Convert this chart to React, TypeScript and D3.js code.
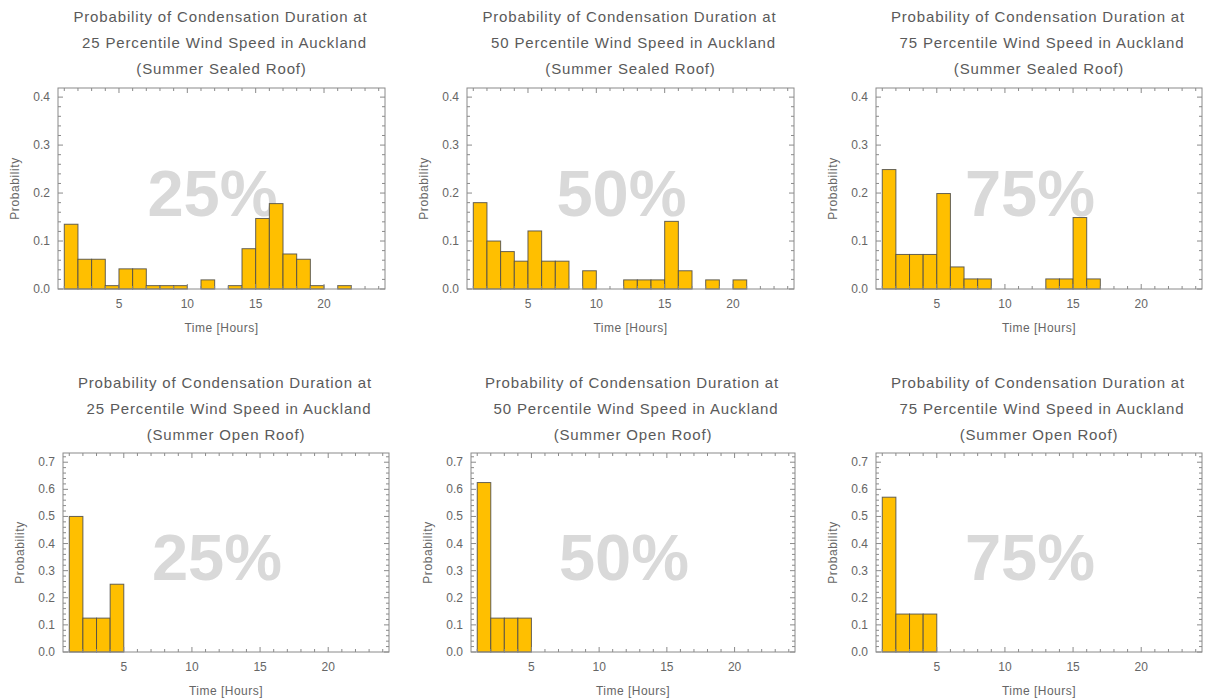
import React from "react";
import * as d3 from "d3";

// Histogram bin probabilities; bin i spans [i+1, i+2] hours.
const sealed25 = [0.135, 0.062, 0.062, 0.007, 0.042, 0.042, 0.007, 0.007, 0.007, 0, 0.019, 0, 0.007, 0.084, 0.147, 0.178, 0.073, 0.062, 0.007, 0, 0.007];
const sealed50 = [0.18, 0.1, 0.078, 0.058, 0.121, 0.058, 0.058, 0, 0.038, 0, 0, 0.019, 0.019, 0.019, 0.141, 0.038, 0, 0.019, 0, 0.019];
const sealed75 = [0.249, 0.072, 0.072, 0.072, 0.199, 0.046, 0.021, 0.021, 0, 0, 0, 0, 0.021, 0.021, 0.149, 0.021];
const open25 = [0.5, 0.125, 0.125, 0.25];
const open50 = [0.625, 0.125, 0.125, 0.125];
const open75 = [0.571, 0.14, 0.14, 0.14];

const percentiles = ["25", "50", "75"];
const roofTypes = ["Summer Sealed Roof", "Summer Open Roof"];
const xMajorTicks = [5, 10, 15, 20];
const sealedYTicks = [0, 0.1, 0.2, 0.3, 0.4];
const openYTicks = [0, 0.1, 0.2, 0.3, 0.4, 0.5, 0.6, 0.7];

const FONT = "'Liberation Sans', Arial, Helvetica, sans-serif";

type PanelProps = {
  values: number[];
  pct: string;
  roof: string;
  left: number;
  right: number;
  top: number;
  bottom: number;
  yMax: number;
  yTicks: number[];
  titleY: number;
};

function Panel({ values, pct, roof, left, right, top, bottom, yMax, yTicks, titleY }: PanelProps) {
  const x = d3.scaleLinear().domain([0.54, 24.46]).range([left, right]);
  const y = d3.scaleLinear().domain([0, yMax]).range([bottom, top]);
  const cx = (left + right) / 2;
  const cy = (top + bottom) / 2;

  const xMinor = d3.range(1, 25).filter((v) => !xMajorTicks.includes(v));
  const yMinor = d3.range(0, yMax, 0.02).filter((v) => Math.abs(Math.round(v * 10) - v * 10) > 1e-6);

  const titleLines = [
    "Probability of Condensation Duration at",
    `${pct} Percentile Wind Speed in Auckland`,
    `(${roof})`,
  ];
  const titleShift = [-1, 3, 0];

  return (
    <g>
      {titleLines.map((t, i) => (
        <text
          key={i}
          x={cx + titleShift[i]}
          y={titleY + i * 26}
          textAnchor="middle"
          fontSize={15}
          letterSpacing={0.85}
          fill="#5a5a5a"
          fontFamily={FONT}
        >
          {t}
        </text>
      ))}
      {/* watermark */}
      <text x={cx - 9} y={cy + 27} textAnchor="middle" fontSize={65} fontWeight="bold" fill="#d9d9d9" fontFamily={FONT}>
        {pct}%
      </text>
      {/* bars */}
      {values.map((v, i) =>
        v > 0 ? (
          <rect
            key={i}
            x={x(i + 1)}
            y={y(v)}
            width={x(i + 2) - x(i + 1)}
            height={y(0) - y(v)}
            fill="#FFBF00"
            stroke="#4a4a4a"
            strokeOpacity={0.85}
            strokeWidth={1}
          />
        ) : null
      )}
      {/* frame */}
      <rect x={left} y={top} width={right - left} height={bottom - top} fill="none" stroke="#8a8a8a" strokeWidth={1} />
      {/* x ticks bottom and top */}
      {xMajorTicks.map((t) => (
        <g key={"xM" + t}>
          <line x1={x(t)} x2={x(t)} y1={bottom} y2={bottom - 5} stroke="#8a8a8a" />
          <line x1={x(t)} x2={x(t)} y1={top} y2={top + 5} stroke="#8a8a8a" />
          <text x={x(t)} y={bottom + 19} textAnchor="middle" fontSize={12} fill="#666" fontFamily={FONT}>
            {t}
          </text>
        </g>
      ))}
      {xMinor.map((t) => (
        <g key={"xm" + t}>
          <line x1={x(t)} x2={x(t)} y1={bottom} y2={bottom - 3} stroke="#8a8a8a" />
          <line x1={x(t)} x2={x(t)} y1={top} y2={top + 3} stroke="#8a8a8a" />
        </g>
      ))}
      {/* y ticks left and right */}
      {yTicks.map((t) => (
        <g key={"yM" + t}>
          <line x1={left} x2={left + 5} y1={y(t)} y2={y(t)} stroke="#8a8a8a" />
          <line x1={right} x2={right - 5} y1={y(t)} y2={y(t)} stroke="#8a8a8a" />
          <text x={left - 8} y={y(t) + 4} textAnchor="end" fontSize={12} fill="#666" fontFamily={FONT}>
            {t.toFixed(1)}
          </text>
        </g>
      ))}
      {yMinor.map((t, i) => (
        <g key={"ym" + i}>
          <line x1={left} x2={left + 3} y1={y(t)} y2={y(t)} stroke="#8a8a8a" />
          <line x1={right} x2={right - 3} y1={y(t)} y2={y(t)} stroke="#8a8a8a" />
        </g>
      ))}
      {/* axis labels */}
      <text
        transform={`translate(${left - 39},${cy}) rotate(-90)`}
        textAnchor="middle"
        fontSize={12}
        letterSpacing={0.6}
        fill="#666"
        fontFamily={FONT}
      >
        Probability
      </text>
      <text x={cx} y={bottom + 43} textAnchor="middle" fontSize={12} letterSpacing={0.5} fill="#666" fontFamily={FONT}>
        Time [Hours]
      </text>
    </g>
  );
}

export default function App() {
  const topRow = [
    { values: sealed25, left: 58, right: 385 },
    { values: sealed50, left: 467, right: 794 },
    { values: sealed75, left: 876, right: 1202 },
  ];
  const bottomRow = [
    { values: open25, left: 63, right: 389 },
    { values: open50, left: 471, right: 795 },
    { values: open75, left: 876, right: 1202 },
  ];
  return (
    <div style={{ position: "absolute", left: 0, top: 0 }}>
      <svg width={1207} height={700} style={{ display: "block", background: "#fff" }}>
        {topRow.map((p, i) => (
          <Panel
            key={"t" + i}
            values={p.values}
            pct={percentiles[i]}
            roof={roofTypes[0]}
            left={p.left}
            right={p.right}
            top={88}
            bottom={289}
            yMax={0.419}
            yTicks={sealedYTicks}
            titleY={22}
          />
        ))}
        {bottomRow.map((p, i) => (
          <Panel
            key={"b" + i}
            values={p.values}
            pct={percentiles[i]}
            roof={roofTypes[1]}
            left={p.left}
            right={p.right}
            top={453}
            bottom={652}
            yMax={0.734}
            yTicks={openYTicks}
            titleY={388}
          />
        ))}
      </svg>
    </div>
  );
}
